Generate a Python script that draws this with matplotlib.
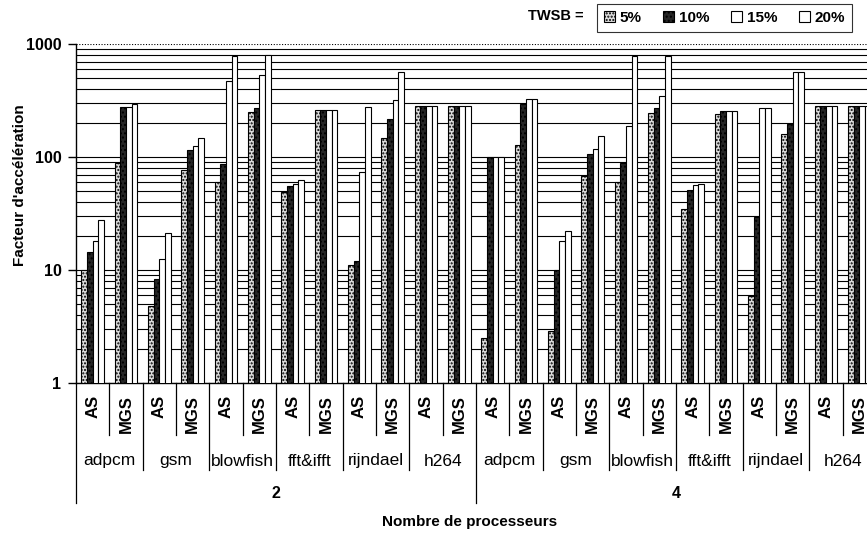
import numpy as np
import matplotlib
matplotlib.use('Agg')
import matplotlib.pyplot as plt
from matplotlib.lines import Line2D
from matplotlib.patches import Patch
from matplotlib.transforms import blended_transform_factory

plt.rcParams['font.family'] = ['Liberation Sans', 'DejaVu Sans']

processors = ['2', '4']
benchmarks = ['adpcm', 'gsm', 'blowfish', 'fft&ifft', 'rijndael', 'h264']
methods = ['AS', 'MGS']
series = ['5%', '10%', '15%', '20%']

# one value per (processor, benchmark, method), in that order
s5 = [10, 88, 4.8, 76, 60, 250, 49, 262, 11, 147, 281, 281,
      2.5, 127, 2.9, 68, 60, 247, 35, 242, 5.9, 159, 281, 281]
s10 = [14.4, 277, 8.4, 116, 87, 273, 55, 262, 11.9, 218, 281, 281,
       100, 297, 10.1, 106, 88, 273, 51, 254, 29.4, 197, 281, 281]
s15 = [18, 275, 12.4, 124, 467, 528, 58, 262, 74, 322, 281, 281,
       100, 328, 18, 118, 188, 344, 56, 256, 273, 565, 281, 281]
s20 = [27.5, 292, 21.2, 147, 788, 794, 63, 262, 277, 565, 281, 281,
       100, 328, 22, 152, 788, 788, 58, 256, 273, 565, 281, 281]

styles = [dict(facecolor='#dcdcdc', hatch='.....'),
          dict(facecolor='#262626', hatch='....'),
          dict(facecolor='white'),
          dict(facecolor='white')]

W, H = 867, 534
fig = plt.figure(figsize=(W / 100, H / 100), dpi=100)
ax = fig.add_axes([76 / W, 1 - 383 / H, 800 / W, 339 / H])

n = len(processors) * len(benchmarks) * len(methods)
x = np.arange(n)
bw = 0.172
for i, (vals, st) in enumerate(zip([s5, s10, s15, s20], styles)):
    ax.bar(x + (i - 1.5) * bw, vals, bw, edgecolor='black', linewidth=0.8,
           zorder=3, label=series[i], **st)

ax.set_yscale('log')
ax.set_ylim(1, 1000)
ax.set_xlim(-0.5, n - 0.5)
ax.set_xticks([])
ax.yaxis.grid(True, which='both', color='black', linewidth=0.8, zorder=0)
ax.yaxis.set_minor_formatter(plt.NullFormatter())
ax.tick_params(axis='y', which='major', length=5.5, width=1, pad=5,
               labelsize=11.5)
ax.tick_params(axis='y', which='minor', length=0)
ax.yaxis.set_major_formatter(plt.FuncFormatter(lambda v, p: '%d' % v))
for s in ['top', 'right']:
    ax.spines[s].set_visible(False)
ax.spines['left'].set_linewidth(1)
ax.spines['bottom'].set_linewidth(1)
ax.set_axisbelow(True)

fig.canvas.draw()
for t in ax.yaxis.get_major_ticks():
    if abs(t.get_loc() - 1000) < 1e-6:
        t.gridline.set_linestyle((0, (1, 1.5)))
for lab in ax.get_yticklabels():
    lab.set_fontweight('bold')

# multi level category axis
tr = blended_transform_factory(ax.transData, fig.transFigure)
def fy(p):
    return 1 - p / H

for i in range(n):
    ax.text(i, fy(395), methods[i % 2], transform=tr, rotation=90,
            ha='center', va='top', fontsize=12, fontweight='bold')
nb = len(benchmarks)
for j in range(len(processors) * nb):
    ax.text(2 * j + 0.5, fy(461), benchmarks[j % nb], transform=tr,
            ha='center', va='center', fontsize=12.5)
for k, p in enumerate(processors):
    ax.text(k * 2 * nb + nb - 0.5, fy(494), p, transform=tr,
            ha='center', va='center', fontsize=11.5, fontweight='bold')

def sep(xv, ybot):
    fig.add_artist(Line2D([xv, xv], [fy(383), fy(ybot)], transform=tr,
                          color='black', linewidth=0.9, clip_on=False))

for j in range(len(processors) * nb):
    sep(2 * j + 0.5, 435)
for j in range(len(processors) * nb + 1):
    if j % nb == 0:
        sep(2 * j - 0.5, 503)
    else:
        sep(2 * j - 0.5, 470)

fig.text(470 / W, fy(522), 'Nombre de processeurs', ha='center',
         va='center', fontsize=11, fontweight='bold')
fig.text(20 / W, fy(185), "Facteur d'accélération", rotation=90,
         ha='center', va='center', fontsize=11, fontweight='bold')

fig.text(556 / W, fy(16), 'TWSB =', ha='center', va='center',
         fontsize=10.5, fontweight='bold')
handles = [Patch(edgecolor='black', linewidth=0.8, **st) for st in styles]
leg = fig.legend(handles, series, ncol=4, loc='upper left',
                 bbox_to_anchor=(597 / W, fy(4)), borderaxespad=0,
                 frameon=True, fancybox=False, edgecolor='black',
                 handlelength=0.7, handleheight=0.7, handletextpad=0.3,
                 columnspacing=1.45, borderpad=0.45,
                 prop=dict(size=11, weight='bold'))
leg.get_frame().set_linewidth(0.8)

fig.savefig('out.png', dpi=100)
